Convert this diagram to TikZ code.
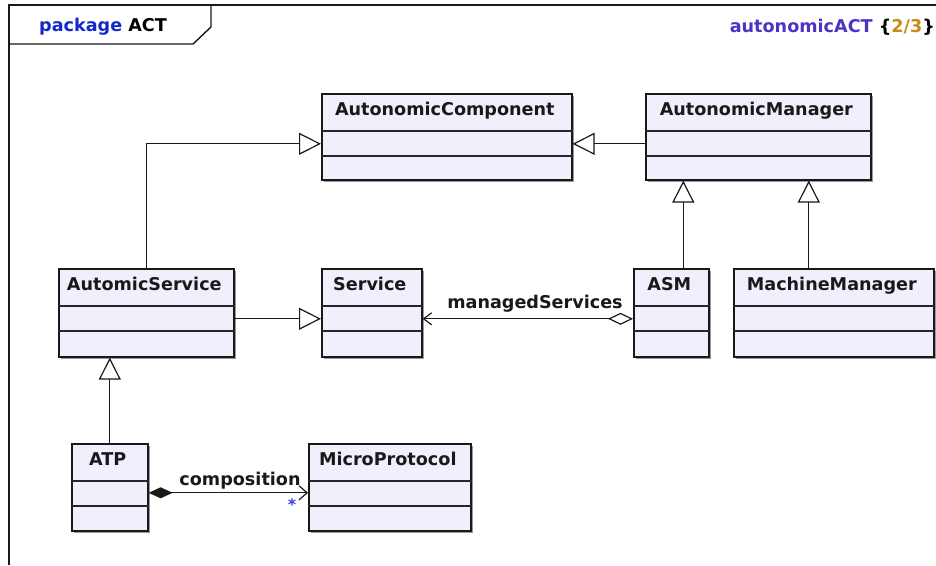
\documentclass[tikz,border=0pt]{standalone}
\usepackage{fontspec}
\setmainfont{DejaVu Sans}
\usetikzlibrary{arrows.meta,shadows}
\definecolor{boxfill}{RGB}{240,240,252}
\definecolor{pkgblue}{RGB}{20,40,200}
\definecolor{titlepurple}{RGB}{80,50,200}
\definecolor{numorange}{RGB}{200,140,20}
\definecolor{multblue}{RGB}{60,60,220}
\newcommand\umlclass[6]{%
  \node[classbox, minimum width=#4pt, minimum height=#5pt] (#1) at (#2,#3) {};
  \draw[divider] ([yshift=-38pt]#1.north west) -- ([yshift=-38pt]#1.north east);
  \draw[divider] ([yshift=-63pt]#1.north west) -- ([yshift=-63pt]#1.north east);
  \node[cname] (#1-name) at ([xshift=-2pt,yshift=-22pt]#1.north) {#6};
}
\begin{document}
\begin{tikzpicture}[x=1pt,y=-1pt,
  classbox/.style={draw=black!90, line width=1.6pt, fill=boxfill, rectangle, inner sep=0pt, anchor=north west,
    drop shadow={shadow xshift=2pt,shadow yshift=-2pt,fill=black!40,opacity=1}},
  divider/.style={draw=black!85, line width=1.2pt},
  cname/.style={font=\bfseries\fontsize{17.6pt}{20pt}\selectfont, text=black!90, anchor=base, inner sep=0pt},
  lbl/.style={font=\bfseries\fontsize{17.6pt}{20pt}\selectfont, text=black!90, anchor=base, inner sep=0pt},
  conn/.style={line width=1.2pt, draw=black!90},
  gen/.style={conn, -{Triangle[open,length=22pt,width=22pt]}},
  frameline/.style={line width=1.4pt, draw=black!90},
]
\useasboundingbox (0,0) rectangle (936,565);
\fill[white] (0,0) rectangle (936,565);

% frame
\draw[frameline] (9,565) -- (9,5) -- (936,5);
\draw[frameline] (211,5) -- (211,27) -- (193,44) -- (9,44);
\node[anchor=base west, inner sep=0pt, font=\bfseries\fontsize{17.6pt}{20pt}\selectfont] (pkg) at (39,31)
  {\textcolor{pkgblue}{package} ACT};
\node[anchor=base east, inner sep=0pt, font=\bfseries\fontsize{17.6pt}{20pt}\selectfont] (title) at (935,32)
  {\textcolor{titlepurple}{autonomicACT} \{\textcolor{numorange}{2/3}\}};

% classes
\umlclass{ac}{321}{93}{250}{86}{AutonomicComponent}
\umlclass{am}{645}{93}{225}{86}{AutonomicManager}
\umlclass{as}{58}{268}{175}{88}{AutomicService}
\umlclass{svc}{321}{268}{100}{88}{Service}
\umlclass{asm}{633}{268}{75}{88}{ASM}
\umlclass{mm}{733}{268}{200}{88}{MachineManager}
\umlclass{atp}{71}{443}{76}{87}{ATP}
\umlclass{mp}{308}{443}{162}{87}{MicroProtocol}

% generalizations
\draw[gen] (as.north) |- ([yshift=-7pt]ac.west);
\draw[gen] ([yshift=-7pt]am.west) -- ([yshift=-7pt]ac.east);
\draw[gen] ([xshift=12pt]asm.north) -- ([xshift=12pt]asm.north |- am.south);
\draw[gen] ([xshift=-25pt]mm.north) -- ([xshift=-25pt]mm.north |- am.south);
\draw[gen] ([yshift=-6pt]as.east) -- ([yshift=-6pt]svc.west);
\draw[gen] (atp.north) -- (atp.north |- as.south);

% aggregation
\draw[conn, {Straight Barb[length=8pt,width=12pt]}-{Diamond[open,length=25pt,width=12pt]}]
  ([yshift=-6pt]svc.east) -- ([yshift=-6pt]asm.west);
\node[lbl] (ms) at (535,308) {managedServices};

% composition
\draw[conn, {Diamond[length=24pt,width=11pt]}-{Straight Barb[length=8pt,width=14pt]}]
  ([yshift=-5.5pt]atp.east) -- ([yshift=-5.5pt]mp.west);
\node[lbl] (comp) at (240,485) {composition};
\node[font=\bfseries\fontsize{16pt}{18pt}\selectfont, text=multblue, inner sep=0pt] (mult) at (292,505) {*};
\end{tikzpicture}
\end{document}
